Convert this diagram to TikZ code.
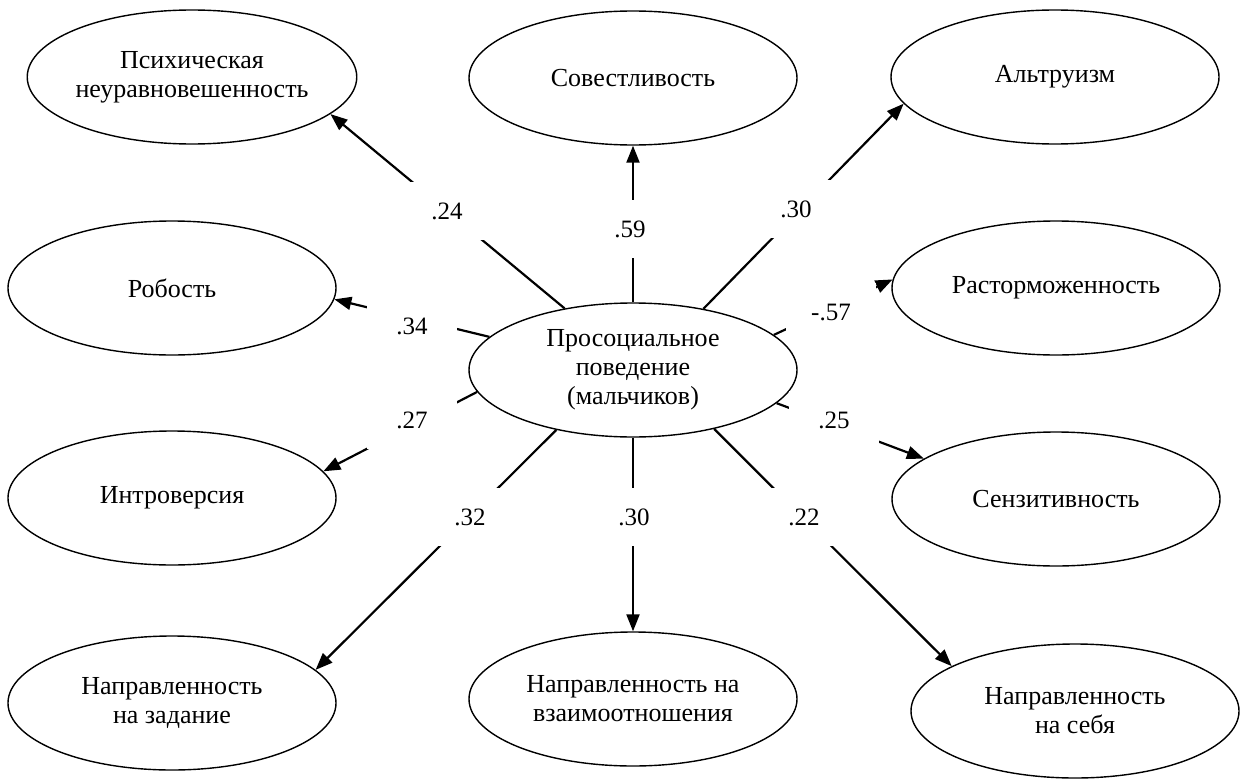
\documentclass[tikz,border=0pt]{standalone}
\usepackage{fontspec}
\setmainfont{Liberation Serif}
\usetikzlibrary{shapes.geometric,arrows.meta}
\begin{document}
\begin{tikzpicture}[x=1pt,y=-1pt,
  ell/.style={ellipse,draw,line width=1.4pt,minimum width=328pt,minimum height=134pt,inner sep=0pt,align=center,font=\fontsize{26}{29}\selectfont},
  lab/.style={fill=white,minimum width=90pt,minimum height=58pt,inner sep=0pt,font=\fontsize{25}{28}\selectfont},
  conn/.style={line width=2.2pt,-{Triangle[length=17pt,width=13pt]}}]
\useasboundingbox (0,0) rectangle (1241,781);
\node[ell] (c) at (633,370) {Просоциальное\\поведение\\(мальчиков)};
\node[ell] (psy) at (192,77) {Психическая\\неуравновешенность};
\node[ell] (sov) at (633,78) {Совестливость};
\node[ell] (alt) at (1055,77) {Альтруизм\vphantom{у}};
\node[ell] (rob) at (172,288) {Робость};
\node[ell] (ras) at (1056,288) {Расторможенность};
\node[ell] (int) at (172,498) {Интроверсия};
\node[ell] (sen) at (1056,499) {Сензитивность};
\node[ell] (zad) at (172,703) {Направленность\\на задание};
\node[ell] (vz) at (633,699) {Направленность на\\взаимоотношения};
\node[ell] (seb) at (1075,711) {Направленность\\на себя};
\draw[conn] (c.138) -- (psy.-15);
\draw[conn] (c.90) -- (sov.-90);
\draw[conn] (c.41) -- (alt.190);
\draw[conn] (c.167) -- (rob.-4);
\draw[conn] (c.14) -- (ras.177);
\draw[conn] (c.188) -- (int.10);
\draw[conn] (c.-13) -- (sen.163);
\draw[conn] (c.218) -- (zad.13);
\draw[conn] (c.-90) -- (vz.90);
\draw[conn] (c.-36) -- (seb.160);
\node[lab] (l1) at (447,211) {.24};
\node[lab] (l2) at (630,229) {.59};
\node[lab] (l3) at (796,209) {.30};
\node[lab] (l4) at (412,326) {.34};
\node[lab] (l5) at (831,312) {-.57};
\node[lab] (l6) at (412,420) {.27};
\node[lab] (l7) at (834,420) {.25};
\node[lab] (l8) at (470,517) {.32};
\node[lab] (l9) at (634,517) {.30};
\node[lab] (l10) at (804,517) {.22};
\end{tikzpicture}
\end{document}
